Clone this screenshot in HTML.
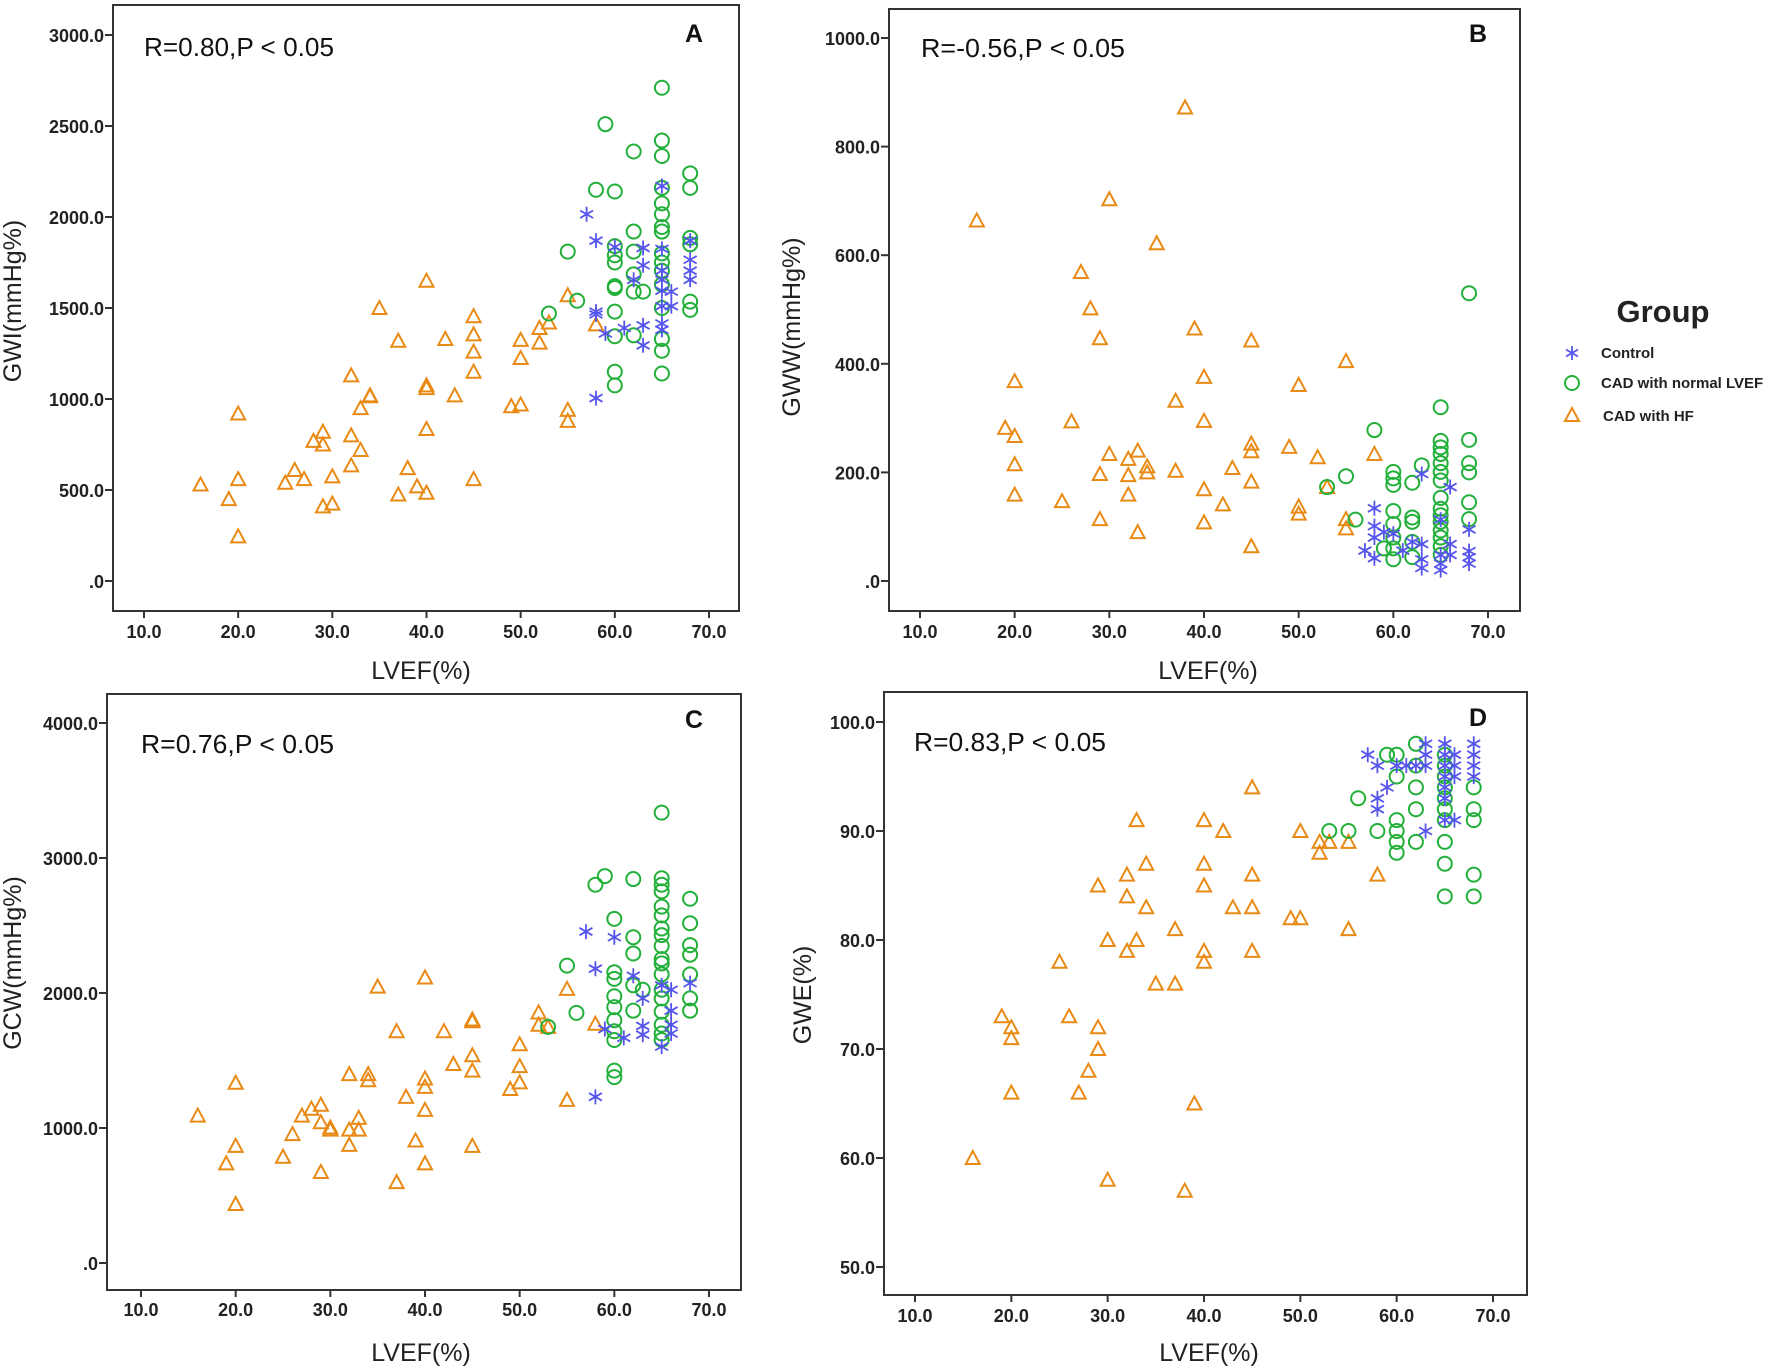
<!DOCTYPE html>
<html><head><meta charset="utf-8">
<style>
html,body{margin:0;padding:0;background:#fff;}
svg{display:block;font-family:"Liberation Sans",Arial,sans-serif;}
</style></head>
<body>
<svg id="chart" width="1772" height="1369" viewBox="0 0 1772 1369" xmlns="http://www.w3.org/2000/svg">
<rect width="1772" height="1369" fill="#fff"/>
<g id="legend">
<text x="1663" y="322" font-size="31" font-weight="bold" text-anchor="middle" fill="#222">Group</text>
<g stroke="#5555ee" stroke-width="1.8"><line x1="1572" y1="346" x2="1572" y2="360"/><line x1="1566" y1="349.5" x2="1578" y2="356.5"/><line x1="1566" y1="356.5" x2="1578" y2="349.5"/></g>
<text x="1601" y="358" font-size="15" font-weight="bold" fill="#222">Control</text>
<g><ellipse cx="1572" cy="383" rx="7" ry="7" fill="none" stroke="#22b03a" stroke-width="2"/><text x="1601" y="388" font-size="15" font-weight="bold" fill="#222">CAD with normal LVEF</text></g>
<g><polygon points="1572,408 1565,421 1579,421" fill="none" stroke="#e98a15" stroke-width="2"/><text x="1603" y="421" font-size="15" font-weight="bold" fill="#222">CAD with HF</text></g>
</g>
</svg>
<script>
// Panel A: GWI
const xA_hf=[16,20,20,19,20,25,26,27,28,29,29,29,30,30,32,32,32,33,33,34,34,35,37,37,38,39,40,40,40,40,40,42,43,45,45,45,45,45,49,50,50,50,52,52,53,55,55,55,58];
const yA_hf=[530,920,560,450,245,540,610,560,770,820,750,410,575,425,1130,800,635,720,950,1020,1015,1500,1320,475,620,520,1650,1060,1075,835,485,1330,1020,1455,1355,1260,1150,560,960,970,1325,1225,1390,1310,1420,1570,940,880,1410];
const xA_n=[55,56,53,58,59,60,60,60,60,60,60,60,60,60,60,62,62,62,62,62,62,63,65,65,65,65,65,65,65,65,65,65,65,65,65,65,65,65,68,68,68,68,68,68];
const yA_n=[1810,1540,1470,2150,2510,2140,1840,1790,1750,1620,1610,1480,1345,1150,1075,2360,1920,1810,1685,1590,1350,1590,2710,2420,2335,2160,2075,2015,1945,1920,1800,1750,1705,1630,1500,1330,1265,1140,2240,2160,1885,1850,1535,1490];
const xA_c=[57,58,58,58,58,59,60,61,62,63,63,63,63,65,65,65,65,65,65,65,65,66,66,68,68,68,68];
const yA_c=[2015,1870,1480,1465,1005,1360,1835,1390,1655,1830,1735,1405,1295,2170,1825,1705,1655,1595,1510,1415,1380,1590,1510,1870,1765,1705,1655];
// Panel B: GWW
const xB_hf=[16,20,19,20,20,20,25,26,27,28,29,29,29,30,30,32,32,32,33,33,34,34,35,37,37,38,39,40,40,40,40,42,43,45,45,45,45,45,49,50,50,50,52,53,55,55,55,58];
const yB_hf=[664,368,282,267,215,159,147,294,569,502,447,197,114,703,234,225,195,159,240,90,211,200,622,332,203,872,465,376,295,169,108,141,208,443,253,239,183,64,247,361,137,124,228,173,405,114,97,234];
const xB_n=[53,55,56,58,59,60,60,60,60,60,60,60,60,62,62,62,62,62,63,65,65,65,65,65,65,65,65,65,65,65,65,65,65,65,68,68,68,68,68,68];
const yB_n=[173,193,113,278,60,201,189,177,129,105,80,60,40,181,117,109,72,44,213,320,258,246,234,217,201,185,153,133,121,109,93,80,64,48,530,260,217,200,145,114];
const xB_c=[58,57,58,58,58,59,60,61,62,63,63,63,63,65,65,65,65,66,66,66,68,68,68,68];
const yB_c=[134,56,101,80,42,90,87,56,72,197,68,40,24,32,20,48,113,173,68,48,95,55,44,32];
// Panel C: GCW
const xC_hf=[16,20,20,19,20,25,26,27,28,29,29,29,30,30,32,32,32,33,33,34,34,35,37,37,38,39,40,40,40,40,40,42,43,45,45,45,45,45,49,50,50,50,52,52,53,55,55,58];
const yC_hf=[1092,1335,868,738,437,787,955,1092,1143,1172,1043,674,1004,988,1399,988,875,1075,988,1399,1354,2047,1717,599,1231,907,2115,1367,1305,1134,738,1717,1474,1804,1791,1539,1425,868,1289,1620,1458,1338,1856,1765,1749,2031,1208,1772];
const xC_n=[53,55,56,58,59,60,60,60,60,60,60,60,60,60,60,62,62,62,62,62,63,65,65,65,65,65,65,65,65,65,65,65,65,65,65,65,65,65,65,68,68,68,68,68,68,68];
const yC_n=[1749,2203,1853,2802,2866,2549,2154,2105,1976,1895,1798,1717,1652,1425,1377,2844,2413,2293,2057,1869,2024,3336,2850,2802,2753,2640,2575,2478,2429,2348,2251,2219,2138,2024,1960,1862,1765,1700,1652,2698,2517,2355,2284,2138,1960,1869];
const xC_c=[57,58,58,59,60,61,62,63,63,63,65,65,66,66,66,66,68];
const yC_c=[2455,2180,1231,1733,2413,1668,2128,1960,1756,1691,2057,1603,2024,1869,1765,1700,2073];
// Panel D: GWE
const xD_hf=[16,19,20,20,20,25,26,27,28,29,29,29,30,30,32,32,32,33,33,34,34,35,37,37,38,39,40,40,40,40,40,42,43,45,45,45,45,49,50,50,52,52,53,55,55,58];
const yD_hf=[60,73,72,71,66,78,73,66,68,72,70,85,80,58,86,84,79,91,80,87,83,76,81,76,57,65,91,87,85,79,78,90,83,94,86,83,79,82,82,90,89,88,89,89,81,86];
const xD_n=[53,55,56,58,59,60,60,60,60,60,60,62,62,62,62,62,65,65,65,65,65,65,65,65,65,65,68,68,68,68,68];
const yD_n=[90,90,93,90,97,97,95,91,90,89,88,98,96,94,92,89,97,96,95,94,93,92,91,89,87,84,94,92,91,86,84];
const xD_c=[57,58,58,58,59,60,61,62,63,63,63,63,65,65,65,65,65,65,65,66,66,66,66,68,68,68,68];
const yD_c=[97,96,93,92,94,96,96,96,98,97,96,90,98,97,96,95,94,93,91,97,96,95,91,98,97,96,95];
const xTicks=[10,20,30,40,50,60,70];
const xTickLabels=["10.0","20.0","30.0","40.0","50.0","60.0","70.0"];
const yTicksA=[0,500,1000,1500,2000,2500,3000];
const yLabelsA=[".0","500.0","1000.0","1500.0","2000.0","2500.0","3000.0"];
const yTicksB=[0,200,400,600,800,1000];
const yLabelsB=[".0","200.0","400.0","600.0","800.0","1000.0"];
const yTicksC=[0,1000,2000,3000,4000];
const yLabelsC=[".0","1000.0","2000.0","3000.0","4000.0"];
const yTicksD=[50,60,70,80,90,100];
const yLabelsD=["50.0","60.0","70.0","80.0","90.0","100.0"];

const NS="http://www.w3.org/2000/svg";
const svg=document.getElementById('chart');
function mk(tag,attrs,parent){const e=document.createElementNS(NS,tag);for(const k in attrs)e.setAttribute(k,attrs[k]);(parent||svg).appendChild(e);return e;}

function panel(p){
  const g=mk('g',{});
  
  
  const sx=v=>p.x0+(v-p.xv0)*(p.x1-p.x0)/(p.xv1-p.xv0);
  const sy=v=>p.y0+(v-p.yv0)*(p.y1-p.y0)/(p.yv1-p.yv0);
  const fr=mk('rect',{x:p.L,y:p.T,width:p.R-p.L,height:p.B-p.T,fill:'none',stroke:'#333','stroke-width':2},g);
  
  
  xTicks.forEach((v,i)=>{
    const x=sx(v);
    mk('line',{x1:x,x2:x,y1:p.B,y2:p.B+7,stroke:'#333','stroke-width':2},g);
    const t=mk('text',{x:x,y:p.xly,'font-size':18,'font-weight':'bold','text-anchor':'middle',fill:'#222'},g);
    
    
    t.textContent=xTickLabels[i];
  });
  p.yt.forEach((v,i)=>{
    const y=sy(v);
    mk('line',{x1:p.L-8,x2:p.L,y1:y,y2:y,stroke:'#333','stroke-width':2},g);
    const t=mk('text',{x:p.L-9,y:y+7,'font-size':18,'font-weight':'bold','text-anchor':'end',fill:'#222'},g);
    
    
    t.textContent=p.yl[i];
  });
  const xt=mk('text',{x:p.xtx,y:p.xty,'font-size':25,'text-anchor':'middle',fill:'#222'},g);
  
  
  xt.textContent='LVEF(%)';
  const yt=mk('text',{x:0,y:0,'font-size':25,'text-anchor':'middle',fill:'#222',transform:`translate(${p.ytx+9},${p.yty}) rotate(-90)`},g);
  
  
  yt.textContent=p.ytitle;
  const rt=mk('text',{x:p.rx,y:p.ry,'font-size':26,fill:'#111',textLength:p.rw,lengthAdjust:'spacingAndGlyphs'},g);
  
  
  rt.textContent=p.rtext;
  const lt=mk('text',{x:p.lx,y:p.ly,'font-size':25,'font-weight':'bold','text-anchor':'middle',fill:'#111'},g);
  
  
  lt.textContent=p.id.toUpperCase();
  p.hx.forEach((v,i)=>{
    const x=sx(v),y=sy(p.hy[i]);
    const m=mk('polygon',{points:`${x},${y-7} ${x-7},${y+6} ${x+7},${y+6}`,fill:'none',stroke:'#e98a15','stroke-width':2},g);
    
    
  });
  p.nx.forEach((v,i)=>{
    const m=mk('ellipse',{cx:sx(v),cy:sy(p.ny[i]),rx:7,ry:7,fill:'none',stroke:'#22b03a','stroke-width':2},g);
    
    
  });
  p.cx.forEach((v,i)=>{
    const x=sx(v),y=sy(p.cy[i]);
    const m=mk('path',{d:`M${x},${y-7.5}L${x},${y+7.5}M${x-6.5},${y-3.75}L${x+6.5},${y+3.75}M${x-6.5},${y+3.75}L${x+6.5},${y-3.75}`,stroke:'#5555ee','stroke-width':1.8,fill:'none'},g);
    
    
  });
}
panel({id:'a',L:113,R:739,T:5,B:611,x0:144,x1:709,xv0:10,xv1:70,y0:581,y1:35,yv0:0,yv1:3000,yt:yTicksA,yl:yLabelsA,xly:638,xtx:421,xty:679,ytx:12,yty:301,ytitle:'GWI(mmHg%)',rx:144,ry:56,rw:190,rtext:'R=0.80,P < 0.05',lx:694,ly:42,hx:xA_hf,hy:yA_hf,nx:xA_n,ny:yA_n,cx:xA_c,cy:yA_c});
panel({id:'b',L:889,R:1520,T:9,B:611,x0:920,x1:1488,xv0:10,xv1:70,y0:581,y1:38,yv0:0,yv1:1000,yt:yTicksB,yl:yLabelsB,xly:638,xtx:1208,xty:679,ytx:791,yty:327,ytitle:'GWW(mmHg%)',rx:921,ry:57,rw:204,rtext:'R=-0.56,P < 0.05',lx:1478,ly:42,hx:xB_hf,hy:yB_hf,nx:xB_n,ny:yB_n,cx:xB_c,cy:yB_c});
panel({id:'c',L:107,R:741,T:694,B:1290,x0:141,x1:709,xv0:10,xv1:70,y0:1263,y1:723,yv0:0,yv1:4000,yt:yTicksC,yl:yLabelsC,xly:1316,xtx:421,xty:1361,ytx:12,yty:963,ytitle:'GCW(mmHg%)',rx:141,ry:753,rw:193,rtext:'R=0.76,P < 0.05',lx:694,ly:728,hx:xC_hf,hy:yC_hf,nx:xC_n,ny:yC_n,cx:xC_c,cy:yC_c});
panel({id:'d',L:884,R:1527,T:692,B:1295,x0:915,x1:1493,xv0:10,xv1:70,y0:1267,y1:722,yv0:50,yv1:100,yt:yTicksD,yl:yLabelsD,xly:1322,xtx:1209,xty:1361,ytx:802,yty:995,ytitle:'GWE(%)',rx:914,ry:751,rw:192,rtext:'R=0.83,P < 0.05',lx:1478,ly:726,hx:xD_hf,hy:yD_hf,nx:xD_n,ny:yD_n,cx:xD_c,cy:yD_c});
</script>
</body></html>
